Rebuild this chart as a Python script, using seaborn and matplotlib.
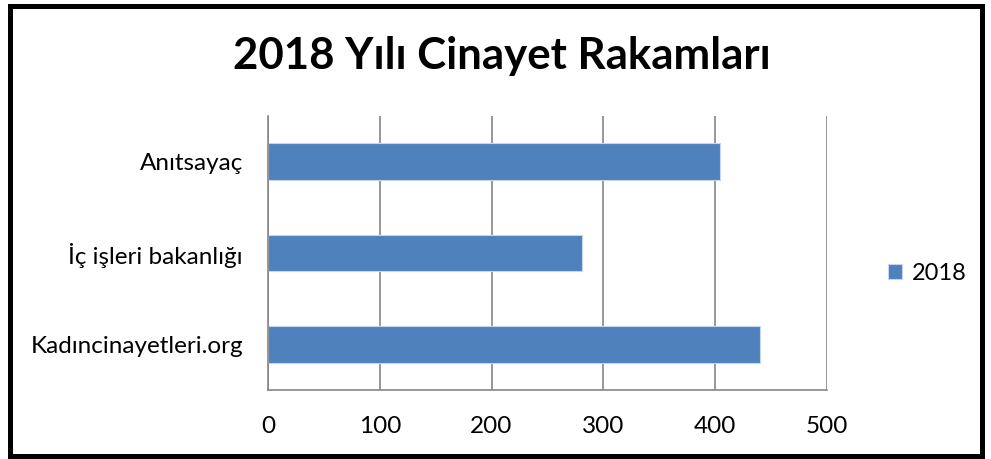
import numpy as np
import pandas as pd
import seaborn as sns
import matplotlib.pyplot as plt
from matplotlib.patches import Rectangle

kaynaklar = ['Anıtsayaç', 'İç işleri bakanlığı', 'Kadıncinayetleri.org']
sayilar = [404, 281, 440]
yil = ['2018', '2018', '2018']
x_ticks = [0, 100, 200, 300, 400, 500]

df = pd.DataFrame({'Kaynak': kaynaklar, 'Sayı': sayilar, 'Yıl': yil})

sns.set_theme(style='white')
plt.rcParams['font.family'] = ['Lato', 'DejaVu Sans']
plt.rcParams['text.color'] = 'black'

fig = plt.figure(figsize=(9.91, 4.59), dpi=100)
ax = fig.add_axes([0.2704, 0.1503, 0.564, 0.597])

sns.barplot(data=df, y='Kaynak', x='Sayı', hue='Yıl', palette=['#4F81BD'],
            saturation=1, width=0.4, orient='h', ax=ax,
            edgecolor='#c8d6ea', linewidth=0.8)

ax.set_xlim(0, 500)
ax.set_ylim(2.5, -0.5)
ax.set_xticks(x_ticks)
ax.set_xticklabels([str(t) for t in x_ticks])
ax.grid(axis='x', color='#868686', linewidth=1.2)
ax.grid(axis='y', visible=False)
ax.set_axisbelow(True)
ax.set_xlabel('')
ax.set_ylabel('')
for s in ['top', 'right']:
    ax.spines[s].set_visible(False)
for s in ['left', 'bottom']:
    ax.spines[s].set_color('#868686')
    ax.spines[s].set_linewidth(1.2)
ax.tick_params(axis='x', length=0, pad=19, labelsize=17.5, colors='black')
ax.tick_params(axis='y', length=0, pad=18, labelsize=17.5, colors='black')

leg = ax.legend(loc='center left', bbox_to_anchor=(0.896, 0.405), bbox_transform=fig.transFigure,
                frameon=False, fontsize=17, handlelength=0.6, handleheight=0.6,
                handletextpad=0.4, borderaxespad=0, borderpad=0)
for t in leg.get_texts():
    t.set_color('black')

fig.text(0.506, 0.878, '2018 Yılı Cinayet Rakamları', ha='center', va='center',
         fontsize=31.5, fontweight='bold', color='black')

fig.patches.append(Rectangle((9.5 / 991, 3 / 459), 972.5 / 991, 450.5 / 459,
                             transform=fig.transFigure, fill=False,
                             edgecolor='black', linewidth=3.6))

fig.savefig('out.png', dpi=100)
